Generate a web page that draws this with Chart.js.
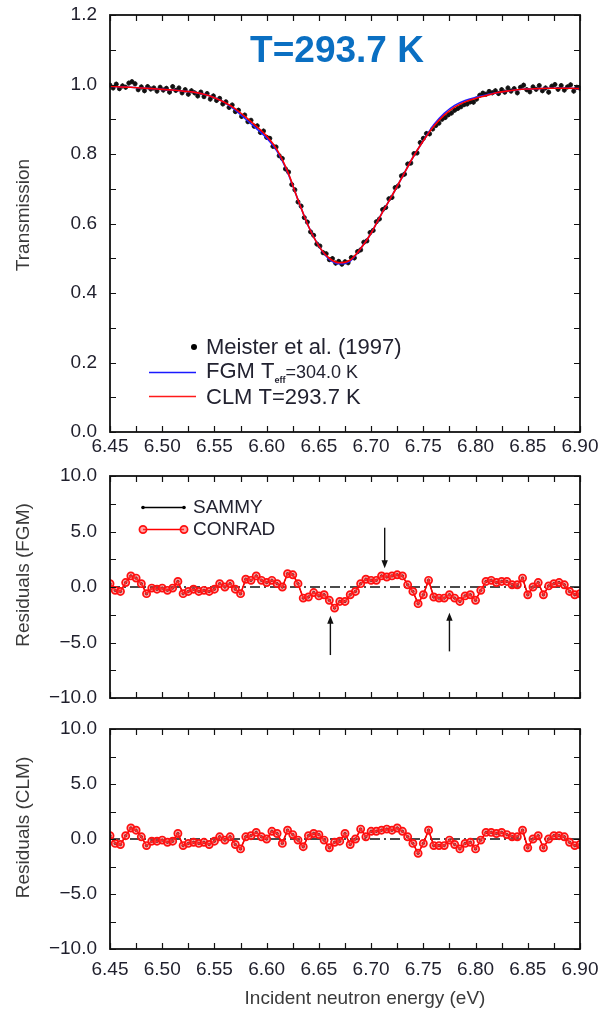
<!DOCTYPE html>
<html><head><meta charset="utf-8">
<script src="https://cdn.jsdelivr.net/npm/chart.js@4.4.1/dist/chart.umd.min.js"></script>
<style>
html,body{margin:0;padding:0;background:#fff;width:601px;height:1011px;overflow:hidden;}
canvas{position:absolute;left:0;}
</style></head><body>
<canvas id="c1" width="601" height="460" style="top:0;width:601px;height:460px"></canvas>
<canvas id="c2" width="601" height="250" style="top:460px;width:601px;height:250px"></canvas>
<canvas id="c3" width="601" height="301" style="top:710px;width:601px;height:301px"></canvas>
<script>
// ---------------- DATA ----------------
const xMin = 6.45, xMax = 6.90;
const xTickStep = 0.025;
const titleText = "T=293.7 K";
const xTitle = "Incident neutron energy (eV)";
const yTitles = ["Transmission", "Residuals (FGM)", "Residuals (CLM)"];

// Meister et al. (1997) measured transmission, 6.45 eV + 0.003 eV steps
const meisterStart = 6.45, meisterStep = 0.003;
const meister = [0.998,0.990,1.001,0.988,0.996,0.992,1.004,1.008,1.002,0.985,
0.993,0.982,0.994,0.987,0.990,0.981,0.992,0.984,0.989,0.978,
0.994,0.983,0.990,0.976,0.985,0.972,0.982,0.976,0.967,0.978,
0.965,0.974,0.958,0.967,0.954,0.960,0.944,0.950,0.934,0.941,
0.922,0.926,0.908,0.912,0.893,0.897,0.880,0.881,0.862,0.866,
0.848,0.845,0.822,0.820,0.795,0.787,0.757,0.748,0.712,0.697,
0.662,0.650,0.617,0.604,0.576,0.566,0.541,0.535,0.516,0.513,
0.496,0.499,0.486,0.491,0.483,0.490,0.487,0.502,0.501,0.519,
0.524,0.546,0.550,0.574,0.580,0.605,0.613,0.640,0.646,0.671,
0.675,0.703,0.708,0.737,0.742,0.771,0.774,0.801,0.803,0.833,
0.845,0.859,0.858,0.872,0.882,0.889,0.900,0.905,0.913,0.918,
0.926,0.931,0.936,0.942,0.944,0.950,0.949,0.958,0.969,0.975,
0.972,0.980,0.976,0.982,0.974,0.985,0.978,0.990,0.981,0.988,
0.976,0.992,0.998,0.985,0.979,0.993,0.986,0.997,0.982,0.990,
0.978,0.995,1.000,0.986,0.997,0.984,0.993,0.999,0.981,0.992,
0.989];
const meisterErr = 0.007; // size of the vertical error bars

// Fitted curves, 6.45 eV + 0.01 eV steps
const fitStart = 6.45, fitStep = 0.01;
const fgmFit = [0.995,0.993,0.992,0.990,0.988,0.986,0.984,0.981,0.978,0.972,
0.962,0.948,0.926,0.900,0.874,0.846,0.808,0.748,0.668,0.592,
0.535,0.497,0.484,0.492,0.528,0.572,0.628,0.680,0.735,0.790,
0.838,0.884,0.917,0.940,0.954,0.963,0.970,0.976,0.981,0.985,
0.987,0.988,0.989,0.989,0.989,0.988];
const clmFit = [0.995,0.993,0.992,0.990,0.988,0.986,0.984,0.981,0.978,0.972,
0.962,0.948,0.930,0.906,0.880,0.852,0.812,0.750,0.668,0.592,
0.535,0.500,0.487,0.495,0.528,0.572,0.628,0.680,0.735,0.790,
0.838,0.880,0.912,0.935,0.950,0.960,0.968,0.976,0.981,0.985,
0.987,0.988,0.989,0.989,0.989,0.988];

// Residuals, 6.45 eV + 0.005 eV steps
const resStart = 6.45, resStep = 0.005;
const resFGM = [0.3,-0.3,-0.4,0.4,1.0,0.8,0.3,-0.6,-0.1,-0.2,
-0.1,-0.3,-0.1,0.5,-0.6,-0.4,-0.2,-0.4,-0.3,-0.4,
-0.2,0.3,0.0,0.3,-0.2,-0.6,0.7,0.6,1.0,0.6,
0.4,0.6,0.3,0.0,1.2,1.1,0.3,-1.0,-0.9,-0.5,
-0.8,-0.7,-1.2,-1.9,-1.3,-1.3,-0.7,-0.4,0.3,0.7,
0.6,0.6,1.0,0.9,1.0,1.1,1.0,0.2,-0.4,-1.5,
-0.7,0.6,-0.9,-1.0,-1.0,-0.7,-1.0,-1.3,-0.8,-0.7,
-1.2,-0.3,0.5,0.6,0.4,0.5,0.5,0.2,0.2,0.8,
-0.7,0.0,0.4,-0.7,0.1,0.3,0.4,0.2,-0.4,-0.7,
-0.6];
const resCLM = [0.3,-0.4,-0.5,0.3,1.0,0.8,0.2,-0.6,-0.2,-0.2,
-0.1,-0.3,-0.2,0.5,-0.6,-0.4,-0.3,-0.4,-0.3,-0.5,
-0.2,0.2,-0.1,0.2,-0.5,-0.9,0.2,0.3,0.6,0.2,
0.0,0.7,0.5,-0.4,0.8,0.4,-0.1,-0.7,0.3,0.5,
0.4,-0.1,-0.8,-0.3,-0.2,0.5,-0.5,0.0,0.9,0.2,
0.7,0.7,0.8,0.9,0.8,1.0,0.7,0.2,-0.4,-1.3,
-0.4,0.8,-0.6,-0.6,-0.6,-0.1,-0.5,-0.9,-0.4,-0.3,
-0.9,-0.1,0.6,0.6,0.5,0.6,0.4,0.2,0.2,0.8,
-0.8,0.0,0.3,-0.8,0.0,0.3,0.3,0.2,-0.3,-0.6,
-0.5];

// Arrows in FGM residual panel: [energy, tail value, tip value]
const arrows = [[6.713, 5.34, 1.68], [6.661, -6.13, -2.59], [6.775, -5.80, -2.33]];

// ---------------- HELPERS ----------------
const FONT = "'Liberation Sans', Arial, Helvetica, sans-serif";
const TICK_COLOR = '#1f1f2c';
function pts(start, step, vals){ return vals.map((v,i)=>({x: +(start + i*step).toFixed(4), y: v})); }

const framePlugin = {
  id: 'frame',
  afterDatasetsDraw(chart){
    const {ctx, chartArea:a, scales:{x, y}} = chart;
    ctx.save();
    ctx.strokeStyle = '#111'; ctx.lineWidth = 1.2;
    const L = 6;
    ctx.beginPath();
    x.ticks.forEach(t=>{
      const px = Math.round(x.getPixelForValue(t.value)) + 0.5;
      ctx.moveTo(px, a.bottom); ctx.lineTo(px, a.bottom - L);
      ctx.moveTo(px, a.top); ctx.lineTo(px, a.top + L);
    });
    y.ticks.forEach(t=>{
      const py = Math.round(y.getPixelForValue(t.value)) + 0.5;
      ctx.moveTo(a.left, py); ctx.lineTo(a.left + L, py);
      ctx.moveTo(a.right, py); ctx.lineTo(a.right - L, py);
    });
    ctx.stroke();
    ctx.lineWidth = 1.8;
    ctx.strokeRect(a.left, a.top, a.right - a.left, a.bottom - a.top);
    ctx.restore();
  }
};

function yTitlePlugin(text, cy){
  return { id: 'ytitle', afterDraw(chart){
    const ctx = chart.ctx; ctx.save();
    ctx.translate(24, cy); ctx.rotate(-Math.PI/2);
    ctx.font = '19px ' + FONT; ctx.fillStyle = '#3a3a3a';
    ctx.textAlign = 'center'; ctx.textBaseline = 'middle';
    ctx.fillText(text, 0, 0); ctx.restore();
  }};
}

function baseOptions(o){
  return {
    responsive: false, animation: false, devicePixelRatio: 1,
    layout: { padding: { top: o.padTop, right: 21, left: 0, bottom: 0 } },
    plugins: { legend: { display: false }, tooltip: { enabled: false } },
    scales: {
      x: {
        type: 'linear', min: xMin, max: xMax,
        grid: { display: false, drawTicks: false },
        border: { display: false },
        afterFit(s){ s.height = o.xH; s.paddingLeft = 0; s.paddingRight = 0; },
        ticks: {
          stepSize: xTickStep, autoSkip: false, maxRotation: 0, padding: o.xPad,
          color: TICK_COLOR, font: { family: FONT, size: 19 },
          callback(v){ if(!o.xLabels) return ''; const k = Math.round((v - xMin)/xTickStep); return k % 2 === 0 ? v.toFixed(2) : ''; }
        }
      },
      y: {
        type: 'linear', min: o.ymin, max: o.ymax,
        grid: { display: false, drawTicks: false },
        border: { display: false },
        afterFit(s){ s.width = 110; s.paddingTop = 0; s.paddingBottom = 0; },
        ticks: {
          stepSize: o.ystep, autoSkip: false, padding: 13,
          color: TICK_COLOR, font: { family: FONT, size: 19 },
          callback: o.yfmt
        }
      }
    }
  };
}

// ---------------- PANEL 1 ----------------
const o1 = {padTop: 15, xH: 28, xPad: 3, xLabels: true, ymin: 0, ymax: 1.2, ystep: 0.1,
  yfmt(v){ return Math.round(v*10) % 2 === 0 ? v.toFixed(1) : ''; }};

const errorBars = { id: 'errorBars', beforeDatasetsDraw(chart){
  const {ctx, scales:{x, y}} = chart;
  ctx.save(); ctx.strokeStyle = '#111'; ctx.lineWidth = 1;
  ctx.beginPath();
  meister.forEach((v, i)=>{
    const px = x.getPixelForValue(meisterStart + i*meisterStep);
    ctx.moveTo(px, y.getPixelForValue(v - meisterErr));
    ctx.lineTo(px, y.getPixelForValue(v + meisterErr));
  });
  ctx.stroke(); ctx.restore();
}};

const legendTop = { id: 'legendTop', afterDraw(chart){
  const ctx = chart.ctx; ctx.save();
  ctx.font = 'bold 37px ' + FONT; ctx.fillStyle = '#0a6fc2';
  ctx.textAlign = 'center'; ctx.textBaseline = 'alphabetic';
  ctx.fillText(titleText, 337, 62);
  ctx.textAlign = 'left';
  ctx.beginPath(); ctx.arc(194, 347, 3, 0, Math.PI*2); ctx.fillStyle = '#000'; ctx.fill();
  ctx.fillStyle = '#222230';
  ctx.font = '22px ' + FONT; ctx.fillText('Meister et al. (1997)', 206, 354);
  ctx.strokeStyle = '#1a1aff'; ctx.lineWidth = 1.6;
  ctx.beginPath(); ctx.moveTo(149, 372.5); ctx.lineTo(196, 372.5); ctx.stroke();
  ctx.font = '22px ' + FONT; ctx.fillText('FGM T', 206, 378);
  let w = ctx.measureText('FGM T').width;
  ctx.font = 'bold 9px ' + FONT; ctx.fillText('eff', 206 + w, 383);
  let w2 = ctx.measureText('eff').width;
  ctx.font = '18px ' + FONT; ctx.fillText('=304.0 K', 206 + w + w2, 378);
  ctx.strokeStyle = '#ff1a1a';
  ctx.beginPath(); ctx.moveTo(149, 396.5); ctx.lineTo(196, 396.5); ctx.stroke();
  ctx.font = '22px ' + FONT; ctx.fillText('CLM T=293.7 K', 206, 404);
  ctx.restore();
}};

new Chart(document.getElementById('c1'), {
  type: 'scatter',
  data: { datasets: [
    { label: 'CLM', data: pts(fitStart, fitStep, clmFit), showLine: true, borderColor: '#ff0000', borderWidth: 1.6, pointRadius: 0, cubicInterpolationMode: 'monotone', order: 1 },
    { label: 'FGM', data: pts(fitStart, fitStep, fgmFit), showLine: true, borderColor: '#2020ff', borderWidth: 1.6, pointRadius: 0, cubicInterpolationMode: 'monotone', order: 2 },
    { label: 'Meister et al. (1997)', data: pts(meisterStart, meisterStep, meister), showLine: false, pointRadius: 2.1, pointBackgroundColor: '#111', pointBorderColor: '#111', pointBorderWidth: 0.8, order: 3 }
  ]},
  options: baseOptions(o1),
  plugins: [errorBars, framePlugin, yTitlePlugin(yTitles[0], 215), legendTop]
});

// ---------------- RESIDUAL PANELS ----------------
function resFmt(v){ if (Math.round(v/2.5) % 2 !== 0) return ''; return v < 0 ? '\u2212' + Math.abs(v).toFixed(1) : v.toFixed(1); }

const MK_FILL = 'rgba(255,80,80,0.5)';
function resDatasets(vals){
  return [
    { label: 'CONRAD', data: pts(resStart, resStep, vals), showLine: true, borderColor: '#ff0000', borderWidth: 1.6,
      pointRadius: 3.6, pointBorderWidth: 1.7, pointBorderColor: '#ff1010', pointBackgroundColor: MK_FILL, order: 1 },
    { label: 'SAMMY', data: pts(resStart, resStep, vals), showLine: true, borderColor: '#000', borderWidth: 1,
      pointRadius: 1.2, pointBackgroundColor: '#000', pointBorderColor: '#000', order: 2 },
    { label: 'zero', data: [{x: xMin, y: 0}, {x: xMax, y: 0}], showLine: true, borderColor: '#111', borderWidth: 1.3,
      borderDash: [10, 4, 2, 4], pointRadius: 0, order: 3 }
  ];
}

const legendMid = { id: 'legendMid', afterDraw(chart){
  const ctx = chart.ctx; ctx.save();
  ctx.font = '19px ' + FONT; ctx.fillStyle = '#222230'; ctx.textBaseline = 'middle'; ctx.textAlign = 'left';
  ctx.strokeStyle = '#000'; ctx.lineWidth = 1.3;
  ctx.beginPath(); ctx.moveTo(143, 47.5); ctx.lineTo(184, 47.5); ctx.stroke();
  ctx.fillStyle = '#000';
  [143, 184].forEach(x=>{ ctx.beginPath(); ctx.arc(x, 47.5, 1.8, 0, Math.PI*2); ctx.fill(); });
  ctx.fillStyle = '#222230'; ctx.fillText('SAMMY', 193, 48);
  ctx.strokeStyle = '#ff0000'; ctx.lineWidth = 1.6;
  ctx.beginPath(); ctx.moveTo(143, 69.5); ctx.lineTo(184, 69.5); ctx.stroke();
  [143, 184].forEach(x=>{ ctx.beginPath(); ctx.arc(x, 69.5, 3.6, 0, Math.PI*2); ctx.fillStyle = MK_FILL; ctx.fill(); ctx.lineWidth = 1.7; ctx.strokeStyle = '#ff1010'; ctx.stroke(); });
  ctx.fillStyle = '#222230'; ctx.fillText('CONRAD', 193, 70);
  const {x, y} = chart.scales;
  ctx.strokeStyle = '#111'; ctx.fillStyle = '#111'; ctx.lineWidth = 1.4;
  arrows.forEach(([e, tail, tip])=>{
    const px = x.getPixelForValue(e), py0 = y.getPixelForValue(tail), py1 = y.getPixelForValue(tip);
    const dir = py1 > py0 ? 1 : -1;
    ctx.beginPath(); ctx.moveTo(px, py0); ctx.lineTo(px, py1 - dir*6); ctx.stroke();
    ctx.beginPath(); ctx.moveTo(px, py1); ctx.lineTo(px - 3.2, py1 - dir*8); ctx.lineTo(px + 3.2, py1 - dir*8); ctx.closePath(); ctx.fill();
  });
  ctx.restore();
}};

const o2 = {padTop: 16, xH: 12, xPad: 0, xLabels: false, ymin: -10, ymax: 10, ystep: 2.5, yfmt: resFmt};
new Chart(document.getElementById('c2'), {
  type: 'scatter',
  data: { datasets: resDatasets(resFGM) },
  options: baseOptions(o2),
  plugins: [framePlugin, yTitlePlugin(yTitles[1], 115), legendMid]
});

const xTitlePlugin = { id: 'xtitle', afterDraw(chart){
  const ctx = chart.ctx; ctx.save();
  ctx.font = '19px ' + FONT; ctx.fillStyle = '#3a3a3a'; ctx.textAlign = 'center'; ctx.textBaseline = 'middle';
  ctx.fillText(xTitle, 365, 289); ctx.restore();
}};

const o3 = {padTop: 19, xH: 62, xPad: 9, xLabels: true, ymin: -10, ymax: 10, ystep: 2.5, yfmt: resFmt};
new Chart(document.getElementById('c3'), {
  type: 'scatter',
  data: { datasets: resDatasets(resCLM) },
  options: baseOptions(o3),
  plugins: [framePlugin, yTitlePlugin(yTitles[2], 117.5), xTitlePlugin]
});
</script>
</body></html>
